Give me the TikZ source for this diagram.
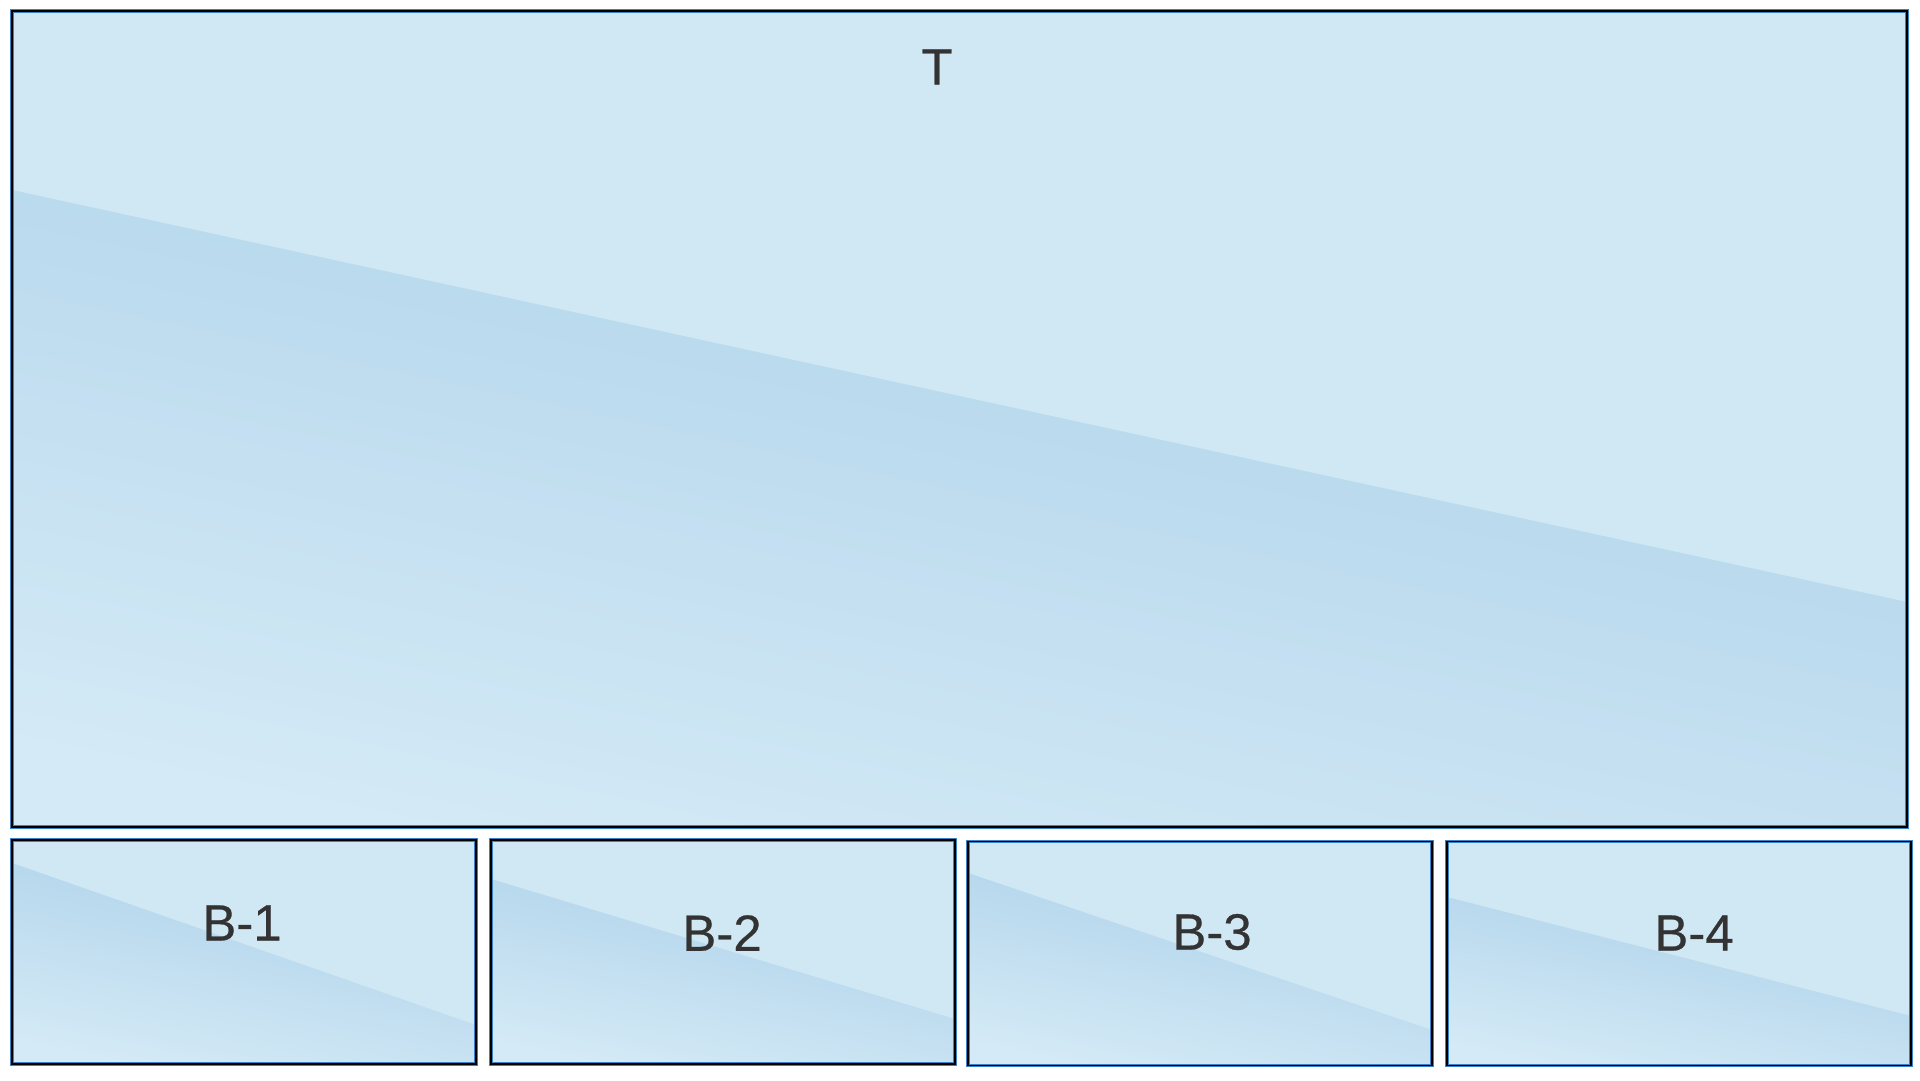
\documentclass[tikz,border=0pt]{standalone}
\usepackage{fontspec}
\setmainfont{Liberation Sans}
\newfontfamily\panelfont[FakeBold=0.5]{Liberation Sans}
\usepackage{xcolor}
\usepackage{tikz}
\definecolor{paneblue}{HTML}{D0E7F4}
\definecolor{bandblue}{HTML}{ABD0E9}
\definecolor{fadeblue}{HTML}{D4EAF6}
\definecolor{rimblue}{HTML}{3B83C4}
\definecolor{inkgray}{HTML}{333333}

\begin{document}
\begin{tikzpicture}[x=1pt,y=-1pt]
\tikzstyle{panel} = [fill=paneblue,inner sep=0,outer sep=0,minimum width=464,minimum height=224];
\tikzstyle{band} = [top color=bandblue,bottom color=fadeblue,shading angle=-12];
\tikzstyle{rim} = [draw=rimblue,double=black,double distance=1.8,line width=0.8];
\tikzstyle{title} = [font=\panelfont\fontsize{51}{60}\selectfont,color=inkgray,inner sep=0];
\useasboundingbox (0,0) rectangle (1920,1080);
\node [panel,minimum width=1895,minimum height=816] (v1) at (959.5,419) {};
\node [panel] (v2) at (244,952) {};
\node [panel] (v3) at (723,952) {};
\node [panel] (v4) at (1200,953.5) {};
\node [panel] (v5) at (1679,953.5) {};
\shade [band] (12,190) -- (1907,602) -- (v1.south east) -- (v1.south west) -- cycle;
\shade [band] (12,863) -- (476,1025) -- (v2.south east) -- (v2.south west) -- cycle;
\shade [band] (491,879) -- (955,1019) -- (v3.south east) -- (v3.south west) -- cycle;
\shade [band] (968,873) -- (1432,1030) -- (v4.south east) -- (v4.south west) -- cycle;
\shade [band] (1447,897) -- (1911,1016) -- (v5.south east) -- (v5.south west) -- cycle;
\draw [rim] (v1.north west) rectangle (v1.south east);
\draw [rim] (v2.north west) rectangle (v2.south east);
\draw [rim] (v3.north west) rectangle (v3.south east);
\draw [rim] (v4.north west) rectangle (v4.south east);
\draw [rim] (v5.north west) rectangle (v5.south east);
\node [title] (l1) at (937,67) {T};
\node [title] (l2) at (242,923) {B-1};
\node [title] (l3) at (722,933) {B-2};
\node [title] (l4) at (1212,932) {B-3};
\node [title] (l5) at (1694,933) {B-4};
\end{tikzpicture}
\end{document}
